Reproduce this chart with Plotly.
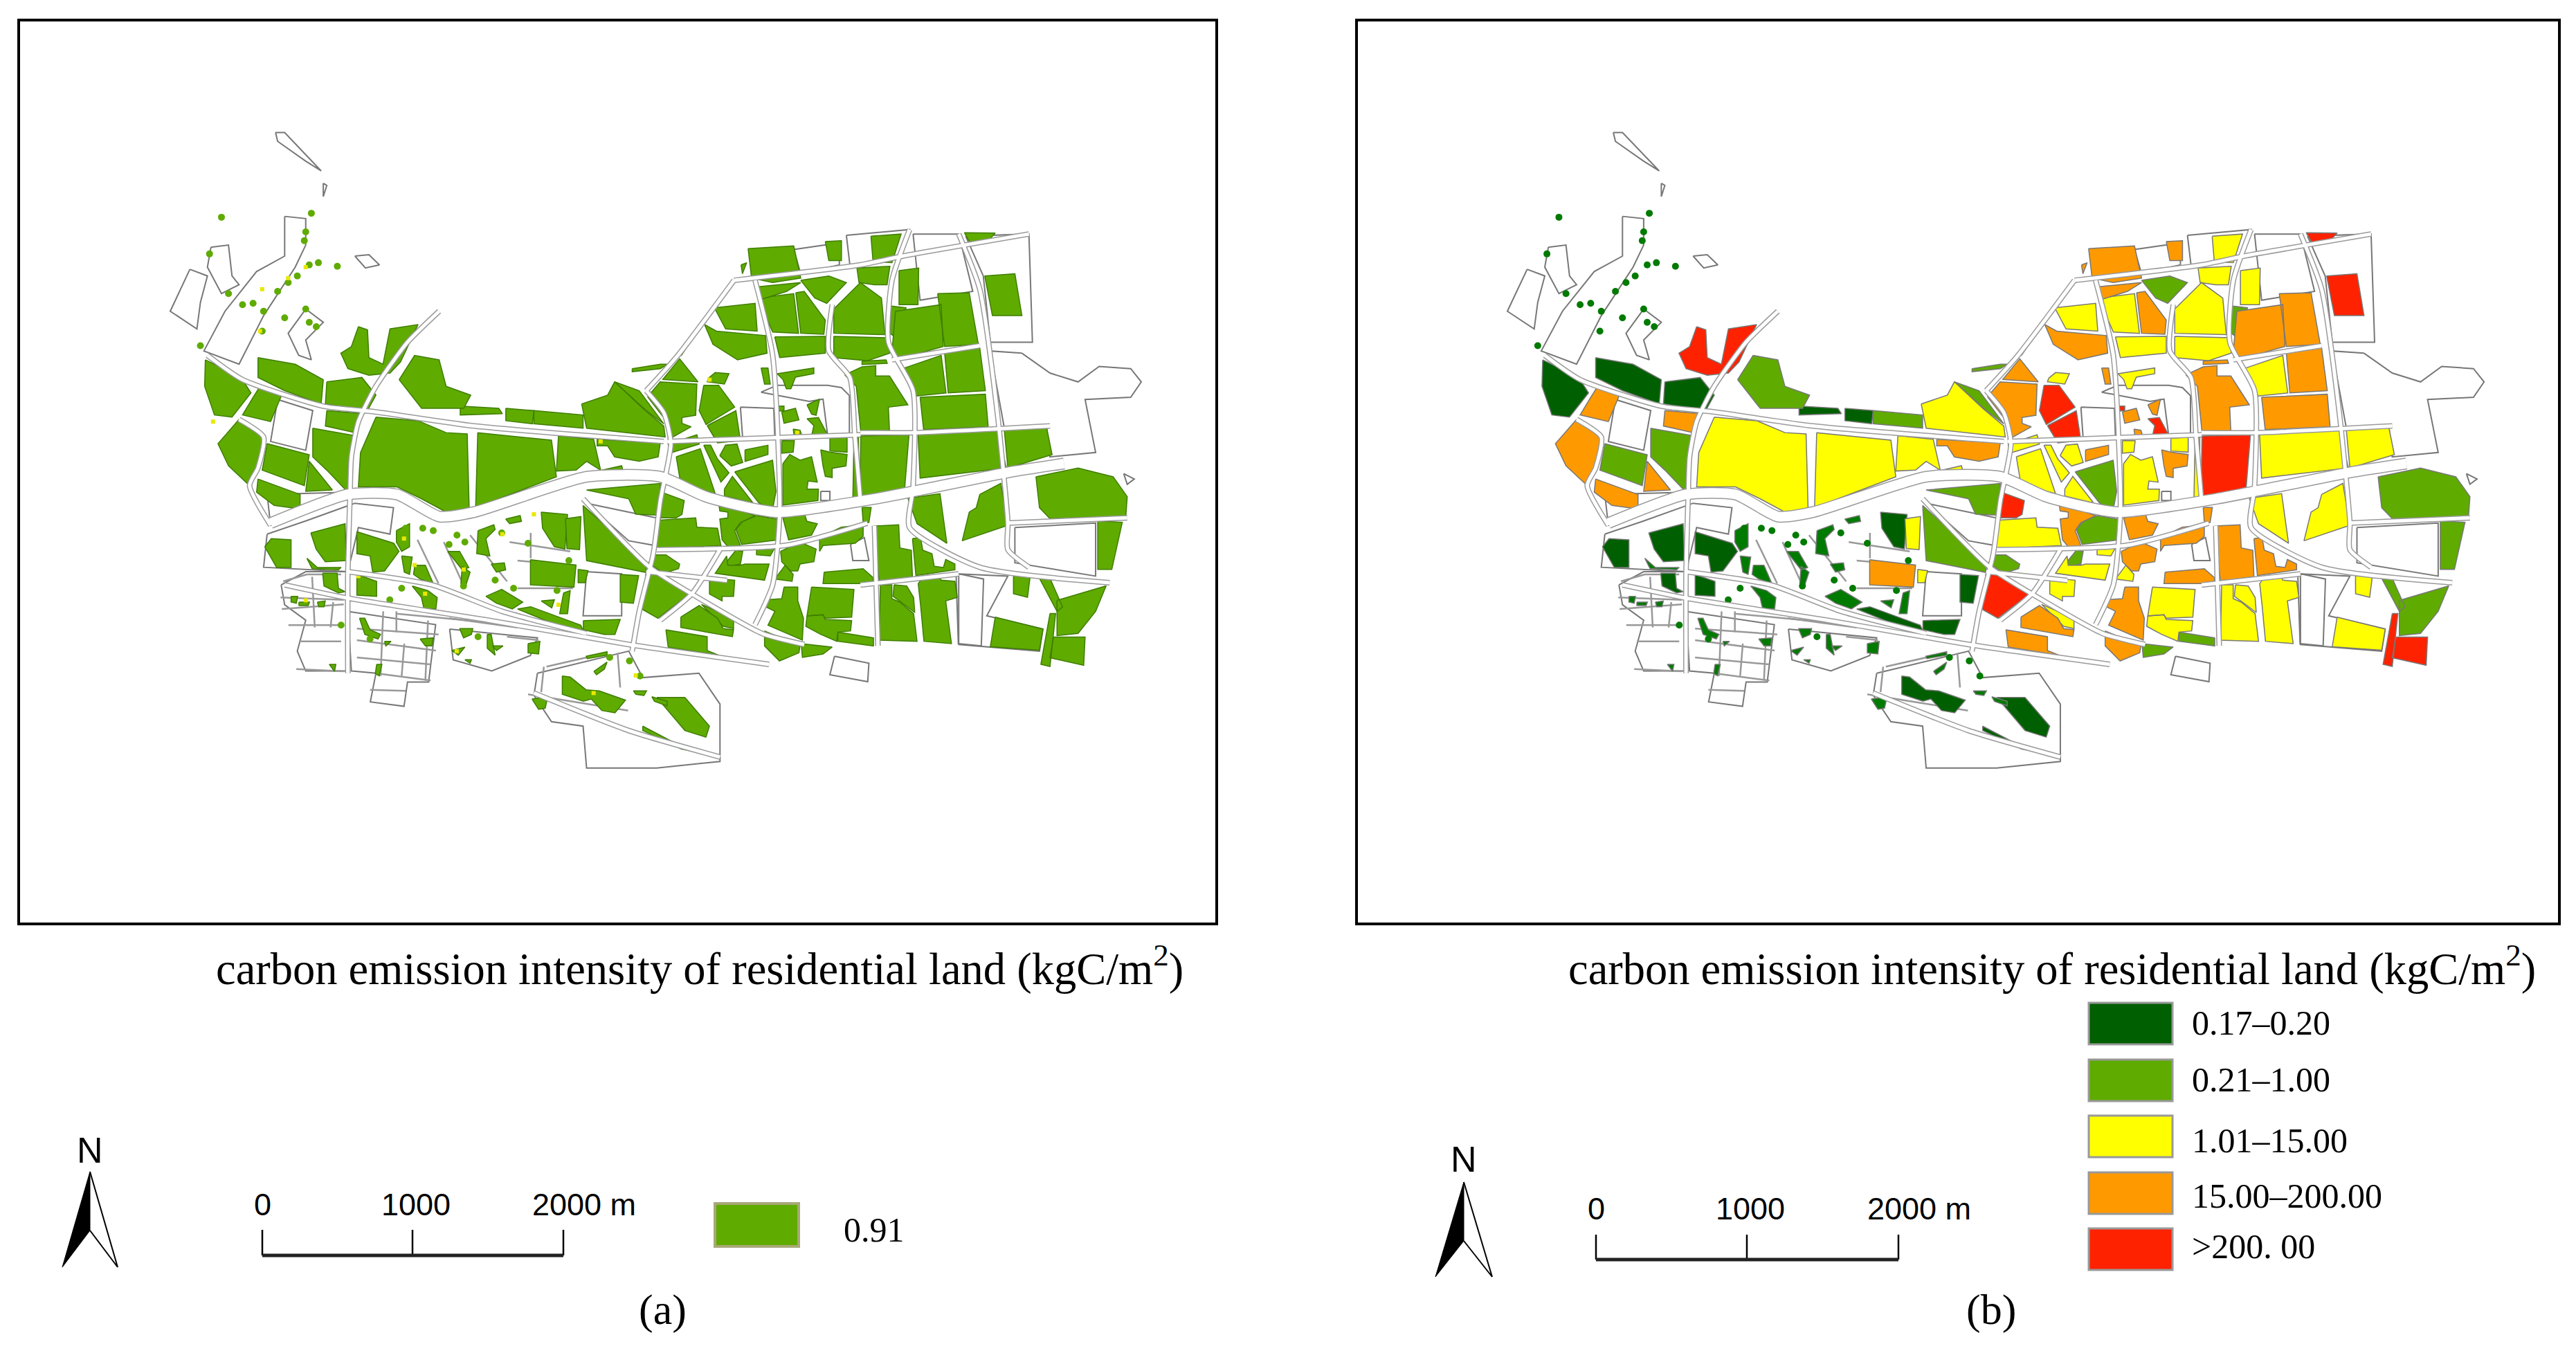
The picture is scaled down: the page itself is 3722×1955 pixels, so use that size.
import plotly.graph_objects as go

W, H = 3722, 1955

# map geometry, in picture units of the map
dark_blocks = [
    [(97,580),(148,620),(162,655),(135,710),(110,705),(96,640)],
    [(172,575),(225,590),(265,625),(262,680),(210,650),(172,620)],
    [(270,630),(320,620),(340,660),(328,695),(268,680)],
    [(460,685),(515,690),(520,702),(460,705)],
    [(525,690),(565,695),(563,725),(525,718)],
    [(740,1345),(780,1345),(815,1410),(810,1435),(780,1420)],
    [(720,1410),(780,1460),(830,1480),(775,1462),(720,1420)],
]
green_blocks = [
    [(373,625),(395,570),(430,580),(440,640),(475,660),(465,690),(405,690)],
    [(250,735),(310,752),(300,880),(270,830),(250,800)],
    [(185,770),(245,795),(238,865),(178,830)],
    [(945,400),(985,390),(1010,405),(982,452),(965,440)],
    [(1072,458),(1095,462),(1085,535),(1072,520)],
    [(680,630),(715,650),(750,725),(725,695)],
    [(640,875),(745,860),(745,932),(710,930),(700,895)],
    [(635,910),(725,1040),(725,1062),(640,1035)],
    [(1280,845),(1340,825),(1390,845),(1410,890),(1408,935),(1300,940),(1285,915)],
    [(1368,945),(1403,948),(1388,1055),(1368,1055)],
    [(1310,1125),(1380,1092),(1365,1150),(1340,1200),(1310,1205)],
    [(1285,1075),(1300,1075),(1318,1140),(1310,1150)],
    [(565,695),(635,705),(635,735),(565,725)],
    [(705,600),(745,590),(755,590),(745,600),(705,607)],
]
yellow_blocks = [
    [(340,710),(400,718),(440,745),(470,748),(473,930),(440,925),(405,895),(370,868),(315,868),(318,790)],
    [(485,745),(590,762),(597,845),(482,915)],
    [(600,752),(650,760),(660,830),(640,810),(625,830),(597,832)],
    [(633,680),(670,660),(680,630),(720,690),(750,730),(752,755),(640,735)],
    [(648,835),(690,820),(693,840),(650,855)],
    [(822,462),(880,452),(883,515),(838,510)],
    [(885,440),(935,430),(942,520),(905,517),(895,480)],
    [(908,528),(980,527),(980,565),(915,575)],
    [(992,465),(1030,405),(1060,440),(1065,523),(992,520)],
    [(992,527),(1070,530),(1072,565),(1040,582),(992,575)],
    [(1045,300),(1088,295),(1075,360),(1048,358)],
    [(1025,372),(1072,368),(1068,410),(1050,410),(1028,405)],
    [(1085,378),(1113,372),(1112,455),(1085,455)],
    [(1090,600),(1145,570),(1152,655),(1110,662)],
    [(1112,745),(1225,740),(1238,825),(1115,848)],
    [(1235,740),(1295,732),(1303,795),(1240,825)],
    [(1200,885),(1230,860),(1240,955),(1175,990),(1185,925),(1195,915)],
    [(1222,1163),(1290,1190),(1285,1238),(1215,1230)],
    [(1248,1070),(1272,1068),(1268,1118),(1248,1110)],
    [(610,940),(632,935),(630,1010),(612,1008)],
    [(840,420),(835,428),(775,570),(770,565)],
    [(628,1055),(642,1058),(638,1085),(628,1085)],
]
orange_blocks = [
    [(870,328),(935,322),(945,395),(905,405),(875,395)],
    [(880,415),(945,405),(925,425),(885,445)],
    [(938,428),(950,425),(980,490),(978,522),(945,520)],
    [(808,500),(825,515),(895,525),(897,565),(855,580),(820,545)],
    [(175,640),(207,655),(190,720),(150,705),(165,665)],
    [(145,715),(180,755),(172,825),(160,865),(130,820),(115,770)],
    [(172,850),(232,885),(232,918),(195,910),(170,880)],
    [(245,810),(278,875),(240,878)],
    [(270,695),(322,702),(310,745),(268,730)],
    [(655,760),(745,768),(742,800),(715,810),(680,800),(670,775),(655,775)],
    [(1080,470),(1145,455),(1148,550),(1085,578),(1075,560)],
    [(1140,430),(1185,428),(1198,545),(1150,550)],
    [(1150,565),(1200,553),(1208,650),(1155,655)],
    [(1115,665),(1208,658),(1212,732),(1120,738)],
    [(560,1033),(625,1045),(622,1095),(560,1090)],
    [(980,312),(1003,310),(1003,355),(985,355)],
    [(860,365),(868,360),(862,385)],
]
red_blocks = [
    [(315,505),(328,512),(330,575),(350,590),(360,510),(400,500),(375,585),(360,610),(330,615),(300,600),(290,565),(305,550)],
    [(1207,390),(1250,385),(1260,480),(1218,480)],
    [(1178,292),(1222,293),(1215,305),(1187,317)],
    [(1300,1155),(1308,1155),(1300,1275),(1287,1270)],
    [(1305,1208),(1350,1208),(1348,1272),(1300,1255)],
]

center_orange = [
    [(105,140),(175,55),(255,155),(100,145)],
    [(35,220),(90,155),(250,165),(245,300),(185,310),(185,335),(225,350),(135,400),(105,310)],
    [(530,95),(560,95),(570,165),(545,165)],
    [(895,125),(970,90),(1030,85),(1030,130),(1090,130),(1170,255),(1085,265),(1090,370),(965,375),(945,175)],
    [(970,65),(1075,60),(1080,75),(970,80)],
    [(620,285),(680,270),(695,320),(630,335)],
    [(730,255),(785,230),(770,300),(750,295)],
    [(670,360),(700,365),(710,395),(675,395)],
    [(460,450),(560,430),(560,470),(460,500)],
    [(790,450),(830,460),(905,470),(900,520),(840,530),(840,570),(810,565),(800,520)],
    [(345,680),(505,735),(440,765),(415,800),(440,865),(385,870),(360,840),(350,750),(385,745),(385,720),(350,715)],
    [(625,745),(720,730),(730,760),(775,770),(750,820),(650,840)],
    [(970,700),(1010,700),(1000,765),(975,765)],
    [(785,830),(880,785),(975,775),(975,825),(940,855),(800,865),(785,890)],
    [(615,890),(700,850),(770,880),(760,935),(700,945),(690,975),(660,975),(620,935)],
    [(805,980),(975,965),(1020,1005),(1015,1030),(800,1030)],
    [(1020,780),(1130,775),(1135,875),(1185,885),(1190,1000),(1045,1020)],
    [(1190,835),(1225,830),(1235,885),(1275,900),(1285,955),(1325,960),(1335,925),(1375,945),(1375,970),(1205,995)],
    [(630,1045),(690,1045),(690,1105),(715,1180),(710,1275),(560,1210),(590,1150),(550,1130),(550,1100),(620,1095)],
    [(545,1235),(700,1300),(695,1330),(610,1365),(545,1300)],
    [(180,1175),(260,1125),(340,1180),(365,1225),(410,1230),(405,1260),(180,1220)],
    [(115,1230),(295,1260),(295,1320),(345,1340),(125,1305)],
]
center_yellow = [
    [(300,140),(330,115),(390,120),(370,165),(295,155)],
    [(600,120),(760,95),(760,120),(680,135),(660,185),(640,185),(625,145)],
    [(125,425),(250,385),(260,425),(130,465)],
    [(160,480),(265,445),(330,640),(180,600)],
    [(280,430),(310,430),(340,490),(390,550),(355,590)],
    [(350,475),(375,430),(425,425),(450,505),(400,520)],
    [(370,620),(405,565),(495,680),(370,650)],
    [(620,410),(675,410),(670,460),(620,465)],
    [(625,510),(655,470),(700,495),(750,480),(775,590),(735,585),(730,620),(780,620),(778,670),(625,690)],
    [(830,400),(905,395),(905,460),(830,455)],
    [(935,395),(955,395),(955,670),(930,665)],
    [(75,755),(245,745),(250,785),(340,790),(355,865),(60,880)],
    [(1170,660),(1310,640),(1340,855),(1210,770)],
    [(380,910),(385,950),(440,950),(460,945),(565,945),(545,1015),(330,985)],
    [(510,875),(595,865),(570,910),(510,905)],
    [(590,1010),(635,950),(670,990),(665,1020)],
    [(305,1005),(415,1015),(410,1085),(360,1085),(360,1105),(305,1075)],
    [(270,1120),(410,1180),(410,1225),(365,1215)],
    [(750,1045),(935,1055),(925,1175),(810,1180),(800,1165),(730,1170)],
    [(730,1170),(800,1165),(810,1185),(925,1190),(920,1235),(865,1240),(860,1280),(790,1250),(725,1215)],
    [(1050,1035),(1100,1035),(1100,1095),(1135,1110),(1195,1160),(1210,1280),(1045,1275)],
    [(1110,1035),(1165,1040),(1195,1090),(1200,1155),(1140,1110),(1105,1085)],
    [(1240,995),(1305,990),(1315,1015),(1375,1020),(1385,1090),(1335,1105),(1360,1290),(1240,1280),(1225,1120),(1215,1030)],
]
center_green = [
    [(415,545),(580,495),(595,630),(580,710),(520,680)],
    [(420,795),(450,760),(510,735),(600,750),(605,840),(445,860)],
    [(380,935),(420,885),(450,890),(440,945),(385,955)],
    [(40,940),(60,905),(115,905),(175,945),(170,965),(105,985)],
    [(865,1240),(1020,1265),(1020,1300),(865,1280)],
    [(705,1290),(840,1305),(800,1335),(710,1350)],
]
center_red = [
    [(280,170),(345,170),(415,265),(290,340),(260,280)],
    [(295,345),(420,280),(440,410),(340,420)],
    [(965,390),(1175,385),(1155,630),(960,670)],
    [(100,635),(195,670),(185,730),(160,745),(80,745)],
    [(30,970),(225,1070),(80,1180),(10,1140)],
    [(605,260),(630,260),(630,280),(610,282)],
    [(730,315),(780,310),(820,385),(750,390),(760,345)],
]
center_outlines = [
    [(440,265),(585,270),(590,400),(450,405)],
    [(790,630),(830,630),(830,670),(790,670)],
    [(850,1345),(1000,1375),(995,1455),(830,1425)],
    [(968,460),(995,460),(995,520),(968,520)],
    [(530,200),(600,170),(820,170),(880,180),(915,215),(915,390),(820,385),(800,230),(740,240)],
    [(920,860),(980,830),(1000,930),(930,930)],
    [(1380,985),(1500,1010),(1490,1300),(1390,1290)],
]

sw_dark = [
    [(40,150),(65,115),(140,120),(140,240),(85,240)],
    [(215,90),(345,50),(350,210),(270,215),(235,160)],
    [(390,85),(530,135),(550,170),(495,255),(450,260),(440,190),(390,180)],
    [(260,265),(315,265),(320,330),(345,345),(320,350),(265,320)],
    [(390,270),(465,300),(465,365),(390,360)],
    [(1000,420),(1050,410),(1240,490),(1250,515),(1150,490)],
    [(1250,470),(1390,465),(1370,530),(1330,530),(1250,510)],
    [(1170,710),(1200,715),(1260,770),(1310,775),(1410,815),(1370,870),(1320,860),(1280,810),(1250,820),(1170,790)],
    [(1390,270),(1460,275),(1440,395),(1390,390)],
    [(1090,0),(1190,10),(1180,160),(1140,150),(1095,70)],
]
sw_small = [
    [(540,80),(590,50),(590,150),(560,170),(540,130)],
    [(560,190),(600,195),(590,270),(570,260)],
    [(610,230),(650,230),(680,310),(630,290),(605,270)],
    [(600,320),(660,340),(695,370),(690,420),(645,420),(635,370)],
    [(735,170),(780,170),(815,240),(790,250)],
    [(790,235),(820,260),(800,330),(785,310)],
    [(850,80),(910,55),(915,75),(880,115),(895,190),(845,180)],
    [(900,225),(950,220),(955,250),(920,260)],
    [(880,365),(940,335),(1020,390),(980,420),(920,395)],
    [(1090,385),(1140,380),(1130,415)],
    [(1175,350),(1200,340),(1190,440),(1160,440)],
    [(200,200),(240,240),(330,240),(320,250),(220,245)],
    [(400,460),(420,460),(440,510),(480,530),(470,550),(420,530)],
    [(630,550),(680,545),(675,580),(650,580)],
    [(780,505),(830,505),(825,530),(795,545)],
    [(885,530),(900,530),(915,620),(885,590)],
    [(1040,570),(1085,560),(1080,615),(1040,610)],
    [(750,600),(800,585),(775,620)],
    [(465,660),(485,660),(475,710),(460,700)],
    [(955,30),(1010,15),(1015,40),(970,50)],
    [(1055,810),(1115,800),(1105,850),(1080,855)],
    [(285,660),(310,660),(305,690)],
    [(140,365),(165,365),(160,395),(140,390)],
    [(170,390),(210,390),(205,405),(170,405)],
    [(240,390),(270,385),(265,410),(245,410)],
    [(1510,800),(1568,820),(1568,840),(1520,820)],
    [(1290,690),(1340,650),(1330,680),(1300,705)],
    [(1260,625),(1340,605),(1340,620),(1265,635)],
    [(1440,775),(1490,775),(1480,795),(1450,790)],
    [(495,560),(520,560),(500,580)],
    [(800,640),(825,640),(820,655)],
    [(905,580),(945,580),(920,600)],
]
sw_speck_x = [575,640,680,770,740,800,940,1040,1195,330,440,850,1350,1425,1465,985,1150,915,795,515,560]
sw_speck_y = [70,70,80,100,140,130,90,135,210,490,550,540,630,645,710,330,340,295,320,380,330]
sw_lines = [
    [(540,430),(540,520)], [(490,430),(480,710)], [(390,505),(700,530)], [(390,555),(690,600)],
    [(390,630),(670,660)], [(470,700),(670,730)], [(570,570),(560,710)], [(660,470),(650,730)],
    [(440,770),(575,775)], [(540,440),(1000,490)], [(740,460),(1000,500)], [(960,540),(1080,555)],
    [(110,300),(200,270),(330,270)], [(100,370),(340,380)], [(105,420),(340,400)], [(130,490),(330,490)],
    [(170,560),(330,560)], [(160,680),(340,690)], [(220,280),(230,500)], [(300,390),(290,500)],
    [(1110,670),(1340,610)], [(1040,790),(1420,860)], [(1100,670),(1090,780)], [(1380,610),(1390,760)],
    [(620,120),(700,310)], [(820,100),(960,300)], [(720,130),(800,330)], [(1000,330),(1210,330)],
    [(1050,90),(1050,200)], [(970,130),(1200,170)], [(1000,210),(1200,230)],
]

# northern small parcels of the lowest class
speck_x = [120,248,240,238,103,130,150,165,180,200,215,228,245,258,285,210,240,245,178,90,255]
speck_y = [257,248,290,310,340,430,455,452,470,425,405,390,365,360,368,485,465,495,515,548,505]
yellow_speck_x = [108,178,215,240,175,380,395,465,520,565,600,660,815,940,240,315,410,650,455,710]
yellow_speck_y = [720,420,395,370,515,985,1045,1055,975,930,1135,765,625,745,1125,1070,1110,1335,1240,1295]

# white parcels and the outer boundary
outline_parcels = [
    [(197,65),(210,65),(262,152),(240,130),(200,85)],
    [(265,180),(270,185),(265,210)],
    [(310,345),(330,342),(345,365),(325,372)],
    [(75,375),(100,390),(90,450),(85,510),(47,470)],
    [(105,325),(130,320),(135,390),(145,410),(120,430),(100,370)],
    [(210,255),(240,260),(240,320),(225,370),(180,480),(145,590),(95,560),(125,470),(170,380),(210,345)],
    [(240,465),(265,495),(240,535),(248,580),(230,570),(215,520)],
    [(200,670),(250,695),(240,785),(190,765)],
    [(185,885),(300,880),(190,955)],
    [(185,975),(240,945),(310,905),(365,915),(360,975),(315,960),(300,1060),(180,1050)],
    [(205,1090),(240,1060),(300,1060),(300,1285),(240,1285),(228,1240),(240,1170),(210,1135)],
    [(300,1150),(425,1180),(415,1310),(385,1310),(380,1365),(332,1355),(340,1290),(305,1285)],
    [(445,1190),(570,1210),(560,1250),(505,1285),(450,1260)],
    [(570,1290),(700,1240),(720,1300),(800,1290),(830,1360),(830,1490),(740,1505),(640,1505),(635,1410),(590,1400),(565,1340)],
    [(640,1060),(690,1065),(690,1160),(635,1160)],
    [(640,905),(745,940),(735,1000),(700,990)],
    [(1010,298),(1100,285),(1085,350),(1015,365)],
    [(935,330),(1000,315),(1000,365),(945,385)],
    [(1105,295),(1170,295),(1190,425),(1115,445)],
    [(1180,300),(1270,295),(1275,540),(1215,540),(1205,390)],
    [(1260,565),(1300,610),(1340,630),(1370,595),(1415,600),(1430,630),(1415,665),(1350,670),(1365,790),(1300,800),(1295,730),(1235,735),(1215,560)],
    [(1250,960),(1365,950),(1365,1070),(1250,1040)],
    [(1170,1065),(1240,1070),(1210,1160),(1290,1190),(1285,1240),(1170,1225)],
    [(1405,838),(1420,850),(1410,862)],
]
roads_thin = [
    [(100,570),(150,625),(265,685),(335,697),(480,730),(750,765)],
    [(430,470),(385,540),(340,640),(315,720),(305,800),(303,890),(300,1060),(300,1290)],
    [(725,650),(750,700),(760,770),(745,900),(735,1020),(715,1150),(705,1240)],
    [(725,650),(770,570),(850,400)],
    [(850,400),(1030,365),(1090,345),(1270,295)],
    [(880,400),(905,570),(915,925),(905,1090),(880,1180)],
    [(1100,285),(1075,400),(1070,540),(1105,650),(1105,870),(1100,960),(1200,1050),(1385,1085)],
    [(1170,295),(1200,420),(1225,700),(1240,950),(1240,1010),(1270,1050)],
    [(1240,950),(1410,938)],
    [(990,455),(985,560),(1015,620),(1022,750),(1030,900)],
    [(1075,580),(1200,548)],
    [(740,1010),(925,1000),(1040,950)],
    [(635,895),(730,1050),(800,1120),(890,1200),(950,1225)],
    [(210,1090),(300,1120),(500,1170),(700,1225),(900,1270)],
    [(300,1060),(420,1090),(520,1150),(640,1200)],
    [(830,1010),(790,1110),(745,1170)],
    [(725,1060),(840,1080)],
    [(1030,1090),(1170,1065)],
    [(1030,745),(1110,745),(1300,730)],
    [(565,1335),(700,1420),(830,1480)],
    [(145,715),(180,755),(172,825),(160,865),(190,955)],
    [(755,765),(1030,750)],
    [(1050,956),(1055,1228)],
]
roads_wide = [
    [(190,950),(300,885),(370,885),(430,935),(480,925),(640,845),(745,845),(810,890),(910,925),(1050,895),(1240,835),(1320,815)],
]

panel_a_color = "#5FAB00"
class_colors = ["#005F00", "#5FAB00", "#FFFF00", "#FF9900", "#FF2200"]
small_color = "#007A00"
class_labels = ["0.17–0.20", "0.21–1.00", "1.01–15.00", "15.00–200.00", "&gt;200. 00"]
scale_labels = ["0", "1000", "2000 m"]
title_text = "carbon emission intensity of residential land (kgC/m<sup>2</sup>)"


def page_to_map(px, py):
    return (px - 2130) * 0.98, (py - 150) * 1.568


def center_to_map(polys):
    return [[page_to_map(2860 + x / 3, 500 + y / 3) for x, y in p] for p in polys]


def sw_to_map(polys):
    return [[page_to_map(2300 + x / 2.613, 740 + y / 3) for x, y in p] for p in polys]


all_dark = dark_blocks + sw_to_map(sw_dark)
all_green = green_blocks + center_to_map(center_green)
all_yellow = yellow_blocks + center_to_map(center_yellow)
all_orange = orange_blocks + center_to_map(center_orange)
all_red = red_blocks + center_to_map(center_red)
all_small = sw_to_map(sw_small)
class_blocks = [all_dark, all_green, all_yellow, all_orange, all_red, all_small]
all_outlines = outline_parcels + center_to_map(center_outlines)
all_lines = sw_to_map(sw_lines)

_sw_specks = sw_to_map([list(zip(sw_speck_x, sw_speck_y))])[0]
all_speck_x = speck_x + [p[0] for p in _sw_specks]
all_speck_y = speck_y + [p[1] for p in _sw_specks]


def flatten(polys):
    xs, ys = [], []
    for p in polys:
        xs += [v[0] for v in p] + [p[0][0], None]
        ys += [v[1] for v in p] + [p[0][1], None]
    return xs, ys


def flatten_open(lines):
    xs, ys = [], []
    for p in lines:
        xs += [v[0] for v in p] + [None]
        ys += [v[1] for v in p] + [None]
    return xs, ys


def add_map(fig, xa, ya, colors, line_color, yellow_specks):
    x, y = flatten(all_outlines)
    fig.add_trace(go.Scatter(x=x, y=y, xaxis=xa, yaxis=ya, mode="lines", line=dict(color="#777777", width=2)))
    x, y = flatten_open(all_lines)
    fig.add_trace(go.Scatter(x=x, y=y, xaxis=xa, yaxis=ya, mode="lines", line=dict(color="#999999", width=2.5)))
    for polys, c in zip(class_blocks, colors):
        x, y = flatten(polys)
        fig.add_trace(go.Scatter(x=x, y=y, xaxis=xa, yaxis=ya, mode="lines", fill="toself", fillcolor=c,
                                 line=dict(color=line_color, width=1.5)))
    fig.add_trace(go.Scatter(x=all_speck_x, y=all_speck_y, xaxis=xa, yaxis=ya, mode="markers",
                             marker=dict(color=colors[5], size=10, symbol="circle")))
    if yellow_specks:
        fig.add_trace(go.Scatter(x=yellow_speck_x, y=yellow_speck_y, xaxis=xa, yaxis=ya, mode="markers",
                                 marker=dict(color="#E8E800", size=6, symbol="square")))
    for lines, wo in [(roads_thin, 8), (roads_wide, 17)]:
        x, y = flatten_open(lines)
        fig.add_trace(go.Scatter(x=x, y=y, xaxis=xa, yaxis=ya, mode="lines",
                                 line=dict(color="#9a9a9a", width=wo, shape="spline", smoothing=0.6)))
    for lines, wi in [(roads_thin, 5), (roads_wide, 14)]:
        x, y = flatten_open(lines)
        fig.add_trace(go.Scatter(x=x, y=y, xaxis=xa, yaxis=ya, mode="lines",
                                 line=dict(color="white", width=wi, shape="spline", smoothing=0.6)))


fig = go.Figure()
add_map(fig, "x", "y", [panel_a_color] * 6, "#3f7d00", True)
add_map(fig, "x2", "y2", class_colors + [small_color], "#777777", False)


def frame_axis(left, right, top, bottom, xmap, ymap, anchor_x, anchor_y):
    xa = dict(domain=[left / W, right / W], range=[xmap(left), xmap(right)], showgrid=False, zeroline=False,
              showticklabels=False, ticks="", showline=True, mirror=True, linecolor="black", linewidth=4,
              anchor=anchor_y)
    ya = dict(domain=[1 - bottom / H, 1 - top / H], range=[ymap(bottom), ymap(top)], showgrid=False, zeroline=False,
              showticklabels=False, ticks="", showline=True, mirror=True, linecolor="black", linewidth=4,
              anchor=anchor_x)
    return xa, ya


ymap = lambda p: (p - 150) * 1.568
xa1, ya1 = frame_axis(29, 1756, 31, 1333, lambda p: ((p - 200) * 0.98 + 1.7) / 0.9942, ymap, "x", "y")
xa2, ya2 = frame_axis(1962, 3696, 31, 1333, lambda p: (p - 2130) * 0.98, ymap, "x2", "y2")
fig.update_layout(xaxis=xa1, yaxis=ya1, xaxis2=xa2, yaxis2=ya2)
fig.update_layout(
    xaxis3=dict(domain=[0, 1], range=[0, W], visible=False, anchor="y3"),
    yaxis3=dict(domain=[0, 1], range=[H, 0], visible=False, anchor="x3"),
)


def put_text(x, y, text, size, family, anchor="left"):
    fig.add_annotation(x=x, y=y, xref="x3", yref="y3", text=text, showarrow=False, xanchor=anchor, yanchor="middle",
                       font=dict(size=size, family=family, color="black"))


# furniture drawn on the full page overlay axes
def add_furniture(tip, left, right, notch, bar_x, bar_y0, bar_y1, n_y, label_y, last_x):
    fig.add_trace(go.Scatter(x=[tip[0], left[0], notch[0], tip[0]], y=[tip[1], left[1], notch[1], tip[1]],
                             xaxis="x3", yaxis="y3", mode="lines", fill="toself", fillcolor="black",
                             line=dict(color="black", width=1)))
    fig.add_trace(go.Scatter(x=[tip[0], right[0], notch[0]], y=[tip[1], right[1], notch[1]],
                             xaxis="x3", yaxis="y3", mode="lines", line=dict(color="black", width=2)))
    put_text(tip[0], n_y, "N", 52, "Liberation Sans", "center")
    for bx in bar_x:
        fig.add_trace(go.Scatter(x=[bx, bx], y=[bar_y0, bar_y1], xaxis="x3", yaxis="y3", mode="lines",
                                 line=dict(color="black", width=2.5)))
    fig.add_trace(go.Scatter(x=[bar_x[0], bar_x[2]], y=[bar_y1, bar_y1], xaxis="x3", yaxis="y3", mode="lines",
                             line=dict(color="#222222", width=5)))
    put_text(bar_x[0], label_y, scale_labels[0], 45, "Liberation Sans", "center")
    put_text(bar_x[1] + 5, label_y, scale_labels[1], 45, "Liberation Sans", "center")
    put_text(last_x, label_y, scale_labels[2], 45, "Liberation Sans")


add_furniture((130, 1693), (90, 1831), (170, 1831), (130, 1778), [379, 596, 814], 1777, 1814, 1662, 1740, 767)
add_furniture((2115, 1708), (2074, 1845), (2156, 1845), (2115, 1793), [2306, 2524, 2743], 1784, 1820, 1675, 1746, 2696)

put_text(310, 1395, title_text, 64.5, "Liberation Serif")
put_text(2264, 1395, title_text, 64.5, "Liberation Serif")
put_text(957, 1892, "(a)", 62, "Liberation Serif", "center")
put_text(2877, 1892, "(b)", 62, "Liberation Serif", "center")
put_text(1217, 1777, "0.91", 50, "Liberation Serif")

fig.add_shape(type="rect", xref="x3", yref="y3", x0=1033, x1=1154, y0=1739, y1=1801, fillcolor=panel_a_color,
              line=dict(color="#a8a878", width=4))
swatch_tops = [1449, 1531, 1612, 1694, 1775]
label_mids = [1478, 1560, 1648, 1728, 1801]
for top, mid, c, lab in zip(swatch_tops, label_mids, class_colors, class_labels):
    fig.add_shape(type="rect", xref="x3", yref="y3", x0=3018, x1=3139, y0=top, y1=top + 60, fillcolor=c,
                  line=dict(color="#999999", width=3))
    put_text(3165, mid, lab, 50, "Liberation Serif")

fig.update_layout(width=W, height=H, margin=dict(l=0, r=0, t=0, b=0), showlegend=False, hovermode=False,
                  paper_bgcolor="white", plot_bgcolor="rgba(0,0,0,0)")
fig.write_html("out.html", post_script="document.body.style.margin='0';", config={"displayModeBar": False})
